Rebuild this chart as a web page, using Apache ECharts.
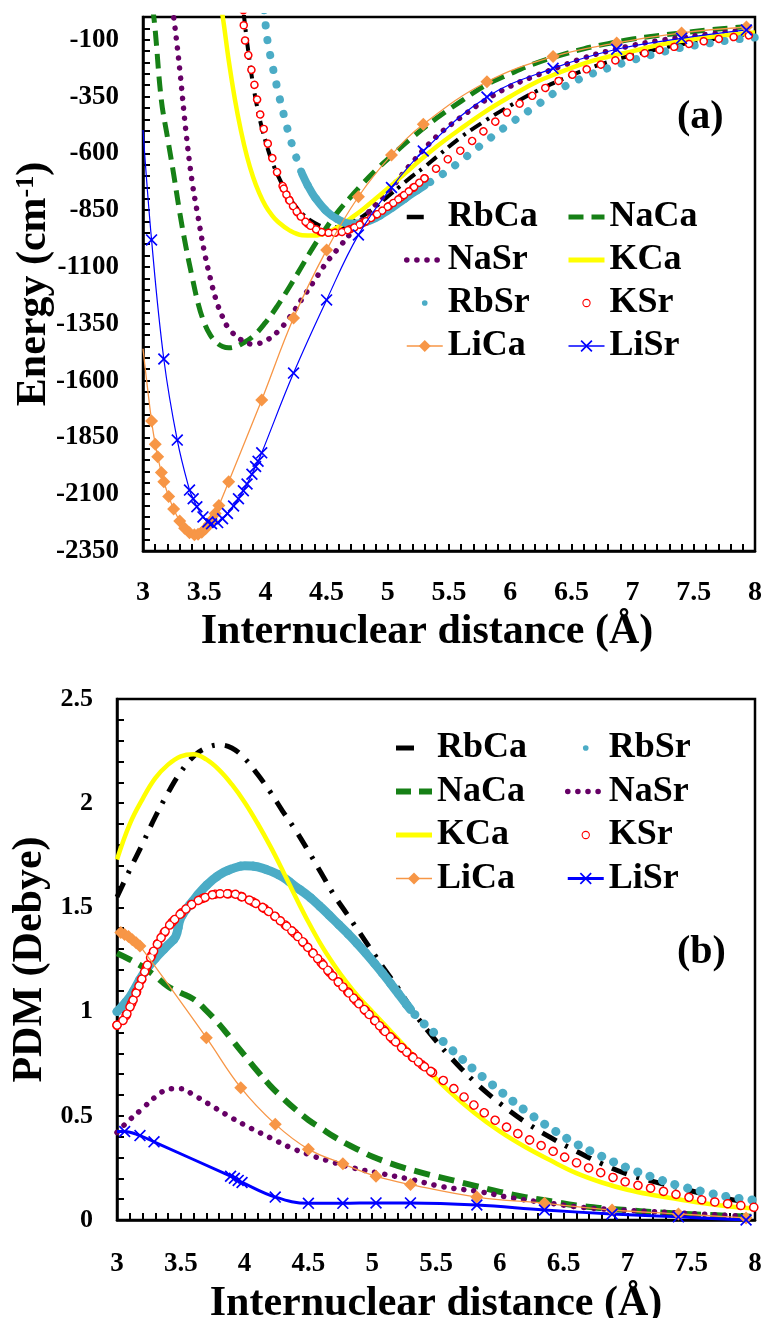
<!DOCTYPE html>
<html>
<head>
<meta charset="utf-8">
<title>Energy and PDM curves</title>
<script src="https://cdn.jsdelivr.net/npm/echarts@6/dist/echarts.min.js"></script>
<style>
  html, body { margin: 0; padding: 0; background: #fff; }
  #main { width: 766px; height: 1318px; }
</style>
</head>
<body>
<div id="main"></div>
<script>
// ---- panel (a): potential energy, [r (Å), E (cm-1)] ----
var rbCaA = [[3.82,30],[3.84,-66],[3.86,-150],[3.9,-300],[3.95,-440],[4.0,-545],[4.05,-630],[4.1,-695],[4.15,-750],[4.2,-800],[4.3,-865],[4.4,-905],[4.5,-925],[4.6,-925],[4.7,-905],[4.8,-875],[4.9,-835],[5.0,-790],[5.1,-745],[5.2,-700],[5.3,-660],[5.4,-615],[5.6,-528],[5.8,-455],[6.0,-390],[6.2,-330],[6.4,-280],[6.6,-235],[6.8,-198],[7.0,-168],[7.2,-142],[7.4,-120],[7.6,-102],[7.8,-85],[8.0,-70]];
var naCaA = [[3.08,40],[3.1,-60],[3.15,-366],[3.2,-530],[3.25,-690],[3.3,-860],[3.35,-1010],[3.4,-1140],[3.45,-1260],[3.5,-1345],[3.55,-1400],[3.6,-1432],[3.65,-1450],[3.7,-1456],[3.75,-1452],[3.8,-1440],[3.9,-1405],[4.0,-1345],[4.1,-1270],[4.2,-1185],[4.3,-1095],[4.4,-1005],[4.5,-925],[4.6,-852],[4.7,-790],[4.8,-730],[4.9,-675],[5.0,-625],[5.2,-530],[5.4,-445],[5.6,-370],[5.8,-300],[6.0,-250],[6.2,-205],[6.4,-170],[6.6,-140],[6.8,-117],[7.0,-97],[7.2,-82],[7.4,-70],[7.6,-58],[7.8,-48],[8.0,-40]];
var naSrA = [[3.24,40],[3.26,-40],[3.3,-230],[3.35,-500],[3.4,-720],[3.45,-880],[3.5,-1030],[3.55,-1150],[3.6,-1250],[3.65,-1320],[3.7,-1370],[3.8,-1420],[3.9,-1440],[4.0,-1425],[4.1,-1385],[4.2,-1320],[4.3,-1240],[4.4,-1160],[4.5,-1080],[4.6,-1015],[4.7,-950],[4.8,-885],[4.9,-825],[5.0,-770],[5.2,-640],[5.4,-525],[5.6,-440],[5.8,-365],[6.0,-305],[6.2,-260],[6.4,-220],[6.6,-180],[6.8,-150],[7.0,-125],[7.2,-105],[7.4,-90],[7.6,-77],[7.8,-65],[8.0,-55]];
var kCaA = [[3.64,40],[3.66,-30],[3.7,-190],[3.75,-360],[3.8,-500],[3.85,-615],[3.9,-705],[3.95,-775],[4.0,-830],[4.05,-870],[4.1,-900],[4.2,-940],[4.3,-960],[4.4,-962],[4.5,-950],[4.6,-922],[4.7,-885],[4.8,-845],[4.9,-800],[5.0,-755],[5.2,-660],[5.4,-570],[5.6,-490],[5.8,-415],[6.0,-350],[6.2,-290],[6.4,-245],[6.6,-205],[6.8,-175],[7.0,-150],[7.2,-125],[7.4,-105],[7.6,-90],[7.8,-78],[8.0,-68]];
var rbSrA = [[3.99,30],[4.0,-26],[4.02,-114],[4.05,-195],[4.1,-320],[4.15,-430],[4.2,-530],[4.25,-615],[4.3,-690],[4.35,-745],[4.4,-790],[4.5,-855],[4.6,-893],[4.7,-910],[4.8,-905],[4.9,-885],[5.0,-852],[5.1,-815],[5.2,-777],[5.3,-742],[5.4,-708],[5.5,-672],[5.6,-632],[5.7,-590],[5.8,-548],[6.0,-468],[6.2,-395],[6.4,-320],[6.6,-265],[6.8,-225],[7.0,-190],[7.2,-160],[7.4,-135],[7.6,-118],[7.8,-102],[8.0,-90]];
var kSrA = [[3.82,30],[3.83,-88],[3.86,-167],[3.9,-270],[3.95,-410],[4.0,-520],[4.05,-610],[4.1,-690],[4.15,-755],[4.2,-810],[4.3,-885],[4.4,-930],[4.5,-950],[4.6,-948],[4.7,-932],[4.8,-905],[4.9,-872],[5.0,-835],[5.1,-797],[5.2,-755],[5.3,-710],[5.4,-665],[5.5,-622],[5.6,-585],[5.8,-495],[6.0,-410],[6.2,-340],[6.4,-280],[6.6,-235],[6.8,-200],[7.0,-172],[7.2,-147],[7.4,-125],[7.6,-105],[7.8,-90],[8.0,-78]];
var liCaA = [[3.0,-1460],[3.07,-1778],[3.1,-1880],[3.12,-1935],[3.15,-2005],[3.17,-2045],[3.21,-2110],[3.25,-2165],[3.3,-2218],[3.34,-2250],[3.38,-2270],[3.42,-2278],[3.45,-2276],[3.48,-2267],[3.51,-2252],[3.54,-2232],[3.56,-2215],[3.59,-2185],[3.62,-2150],[3.7,-2045],[3.97,-1685],[4.23,-1325],[4.5,-1025],[4.76,-791],[5.03,-607],[5.29,-472],[5.81,-285],[6.35,-174],[6.87,-114],[7.4,-70],[7.93,-44]];
var liCaAPlain = [3.0];
var liSrA = [[3.0,-497],[3.07,-981],[3.17,-1505],[3.28,-1862],[3.38,-2082],[3.41,-2120],[3.44,-2155],[3.49,-2200],[3.53,-2222],[3.56,-2230],[3.61,-2225],[3.65,-2208],[3.69,-2185],[3.74,-2152],[3.78,-2120],[3.82,-2085],[3.85,-2055],[3.89,-2012],[3.92,-1978],[3.94,-1955],[3.97,-1918],[4.23,-1567],[4.5,-1245],[4.76,-959],[5.03,-750],[5.29,-590],[5.81,-352],[6.35,-226],[6.87,-142],[7.4,-94],[7.93,-57]];
var liSrAPlain = [3.0];

// ---- panel (b): permanent dipole moment, [r (Å), D (Debye)] ----
var rbCaB = [[3.0,1.55],[3.1,1.68],[3.2,1.805],[3.3,1.935],[3.4,2.05],[3.5,2.15],[3.6,2.225],[3.7,2.265],[3.8,2.28],[3.9,2.265],[4.0,2.215],[4.1,2.14],[4.2,2.055],[4.3,1.96],[4.4,1.87],[4.5,1.77],[4.6,1.665],[4.7,1.56],[4.8,1.47],[4.9,1.38],[5.0,1.29],[5.1,1.2],[5.2,1.115],[5.3,1.02],[5.4,0.935],[5.5,0.86],[5.6,0.79],[5.7,0.725],[5.8,0.665],[5.9,0.61],[6.0,0.56],[6.2,0.47],[6.4,0.395],[6.6,0.33],[6.8,0.27],[7.0,0.22],[7.2,0.185],[7.4,0.155],[7.6,0.125],[7.8,0.1],[8.0,0.08]];
var naCaB = [[3.0,1.28],[3.1,1.25],[3.2,1.215],[3.3,1.17],[3.4,1.12],[3.5,1.09],[3.6,1.06],[3.7,1.005],[3.8,0.94],[3.9,0.865],[4.0,0.79],[4.1,0.715],[4.2,0.645],[4.3,0.585],[4.4,0.53],[4.5,0.48],[4.6,0.44],[4.7,0.4],[4.8,0.365],[4.9,0.335],[5.0,0.305],[5.2,0.26],[5.4,0.225],[5.6,0.195],[5.8,0.165],[6.0,0.135],[6.2,0.11],[6.4,0.09],[6.6,0.07],[6.8,0.057],[7.0,0.047],[7.2,0.038],[7.4,0.03],[7.6,0.025],[7.8,0.02],[8.0,0.015]];
var naSrB = [[3.0,0.42],[3.08,0.47],[3.2,0.535],[3.3,0.59],[3.42,0.63],[3.5,0.63],[3.6,0.6],[3.75,0.545],[3.9,0.49],[4.05,0.44],[4.2,0.395],[4.35,0.35],[4.5,0.315],[4.65,0.285],[4.85,0.25],[5.05,0.225],[5.3,0.195],[5.55,0.16],[5.85,0.135],[6.1,0.105],[6.4,0.08],[6.65,0.06],[6.9,0.05],[7.2,0.04],[7.45,0.032],[7.7,0.025],[8.0,0.015]];
var kCaB = [[3.0,1.73],[3.1,1.9],[3.2,2.02],[3.3,2.12],[3.4,2.185],[3.5,2.225],[3.6,2.235],[3.7,2.21],[3.8,2.16],[3.9,2.09],[4.0,2.005],[4.1,1.905],[4.2,1.795],[4.3,1.675],[4.4,1.55],[4.5,1.43],[4.6,1.32],[4.7,1.225],[4.8,1.14],[4.9,1.065],[5.0,1.0],[5.2,0.87],[5.4,0.74],[5.6,0.62],[5.8,0.515],[6.0,0.425],[6.2,0.35],[6.4,0.285],[6.6,0.225],[6.8,0.18],[7.0,0.145],[7.2,0.12],[7.4,0.1],[7.6,0.08],[7.8,0.065],[8.0,0.055]];
var rbSrB = [[3.0,1.0],[3.1,1.07],[3.2,1.175],[3.3,1.255],[3.4,1.32],[3.46,1.36],[3.5,1.45],[3.6,1.535],[3.7,1.605],[3.8,1.655],[3.9,1.685],[4.0,1.7],[4.1,1.695],[4.2,1.675],[4.3,1.645],[4.4,1.6],[4.5,1.555],[4.6,1.5],[4.7,1.44],[4.8,1.38],[4.9,1.315],[5.0,1.245],[5.1,1.17],[5.2,1.09],[5.3,1.01],[5.4,0.945],[5.5,0.89],[5.6,0.83],[5.7,0.775],[5.8,0.72],[5.9,0.67],[6.0,0.62],[6.2,0.525],[6.4,0.44],[6.6,0.365],[6.8,0.305],[7.0,0.25],[7.2,0.205],[7.4,0.165],[7.6,0.135],[7.8,0.11],[8.0,0.095]];
var kSrB = [[3.0,0.935],[3.05,0.96],[3.1,1.02],[3.15,1.09],[3.2,1.165],[3.25,1.24],[3.3,1.305],[3.4,1.405],[3.5,1.47],[3.6,1.52],[3.7,1.55],[3.8,1.565],[3.9,1.565],[4.0,1.545],[4.1,1.515],[4.2,1.475],[4.3,1.425],[4.4,1.37],[4.5,1.305],[4.6,1.235],[4.7,1.165],[4.8,1.1],[4.9,1.035],[5.0,0.97],[5.1,0.905],[5.2,0.845],[5.3,0.79],[5.4,0.74],[5.5,0.695],[5.6,0.65],[5.7,0.6],[5.8,0.55],[5.9,0.505],[6.0,0.465],[6.2,0.395],[6.4,0.335],[6.6,0.275],[6.8,0.225],[7.0,0.18],[7.2,0.15],[7.4,0.12],[7.6,0.095],[7.8,0.077],[8.0,0.06]];
var liCaB = [[3.0,1.39],[3.03,1.38],[3.06,1.37],[3.09,1.36],[3.12,1.345],[3.15,1.33],[3.18,1.315],[3.7,0.875],[3.97,0.635],[4.24,0.46],[4.5,0.34],[4.77,0.27],[5.03,0.21],[5.3,0.17],[5.82,0.11],[6.35,0.08],[6.88,0.048],[7.4,0.029],[7.93,0.01]];
var liCaBPlain = [3.0];
var liSrB = [[3.0,0.425],[3.06,0.425],[3.18,0.405],[3.29,0.375],[3.89,0.21],[3.92,0.2],[3.95,0.19],[3.98,0.18],[4.24,0.11],[4.5,0.08],[4.77,0.08],[5.03,0.082],[5.3,0.082],[5.82,0.072],[6.35,0.048],[6.88,0.029],[7.4,0.015],[7.93,0.0]];
var liSrBPlain = [3.0];

// axis ranges / label steps
var xMin = 3, xMax = 8;
var eMin = -2350, eMax = 0, eLabelStep = 250;
var dMin = 0, dMax = 2.5;

var FONT = 'Liberation Serif';
var COL = { rbca: '#000000', naca: '#168016', nasr: '#660066', kca: '#ffff00',
            rbsr: '#4bacc6', ksr: '#ff0000', lica: '#f79646', lisr: '#0000ff' };
var CROSS = 'path://M0,1L1,0L10,9L9,10Z M9,0L10,1L1,10L0,9Z';
var DOT_ICON = 'path://M0,0M18,18M9,5.6A3.4,3.4,0,1,1,9,12.4A3.4,3.4,0,1,1,9,5.6Z';
var RING_ICON = 'path://M0,0M18,18M9,4A5,5,0,1,1,9,14A5,5,0,1,1,9,4ZM9,5.3A3.7,3.7,0,1,0,9,12.7A3.7,3.7,0,1,0,9,5.3Z';

function between(arr, a, b) {
  return arr.filter(function (p) { return p[0] >= a && p[0] <= b; });
}

function line(name, g, data, color, width, type, cap) {
  var s = {
    type: 'line', xAxisIndex: g, yAxisIndex: g, data: data,
    smooth: 0.4, symbol: 'none', silent: true,
    lineStyle: { color: color, width: width, type: type || 'solid', cap: cap || 'butt', join: 'round' },
    itemStyle: { color: color, borderWidth: 0 }
  };
  if (name) s.name = name;
  return s;
}

function marked(name, g, data, plain, color, width, sym, size) {
  var pts = data.map(function (p) {
    return plain.indexOf(p[0]) >= 0 ? { value: p, symbol: 'none' } : p;
  });
  var s = line(name, g, pts, color, width);
  s.symbol = sym;
  s.symbolSize = size;
  s.showSymbol = true;
  s.showAllSymbol = true;
  return s;
}

// open circles: red dots with white centres laid along the curve
function rings(name, g, data, outer, inner, gap) {
  return [
    line(name, g, data, COL.ksr, outer, [0.1, gap], 'round'),
    line(null, g, data, '#ffffff', inner, [0.1, gap], 'round')
  ];
}

function xAxis(g, fs, margin, gap, padRight) {
  return {
    type: 'value', gridIndex: g, min: xMin, max: xMax, interval: 0.1,
    axisLine: { onZero: false, lineStyle: { color: '#000', width: 2.5 } },
    axisTick: { inside: true, length: 7, lineStyle: { color: '#000', width: 2 } },
    splitLine: { show: false },
    axisLabel: {
      margin: margin, color: '#000', fontFamily: FONT, fontWeight: 'bold', fontSize: fs,
      formatter: function (v) { var k = Math.round(v * 10); return k % 5 === 0 ? String(k / 10) : ''; }
    },
    name: 'Internuclear distance (Å)', nameLocation: 'middle', nameGap: gap, nameMoveOverlap: false,
    nameTextStyle: { fontFamily: FONT, fontWeight: 'bold', fontSize: 42, color: '#000', padding: [0, padRight, 0, 0] }
  };
}

var tickLine = { inside: true, length: 7, lineStyle: { color: '#000', width: 2 } };
var axisLine = { onZero: false, lineStyle: { color: '#000', width: 2.5 } };

var hide = { opacity: 0 };
var item = {
  RbCa: function (w, d) { return { name: 'RbCa', itemStyle: hide, lineStyle: { color: COL.rbca, width: w, type: [d, 60] } }; },
  NaCa: function (w) { return { name: 'NaCa', itemStyle: hide, lineStyle: { color: COL.naca, width: w, type: [15, 8] } }; },
  NaSr: function (w) { return { name: 'NaSr', itemStyle: hide, lineStyle: { color: COL.nasr, width: w, type: [0.1, 10], cap: 'round' } }; },
  KCa: function (w) { return { name: 'KCa', itemStyle: hide, lineStyle: { color: COL.kca, width: w, type: 'solid' } }; },
  RbSr: function () { return { name: 'RbSr', icon: DOT_ICON, itemStyle: { color: COL.rbsr, opacity: 1, borderWidth: 0 } }; },
  KSr: function () { return { name: 'KSr', icon: RING_ICON, itemStyle: { color: COL.ksr, opacity: 1, borderWidth: 0 } }; },
  LiCa: function (w) { return { name: 'LiCa', itemStyle: { color: COL.lica, borderWidth: 0, opacity: 1 }, lineStyle: { color: COL.lica, width: w, type: 'solid' } }; },
  LiSr: function (w) { return { name: 'LiSr', itemStyle: { color: COL.lisr, borderWidth: 0, opacity: 1 }, lineStyle: { color: COL.lisr, width: w, type: 'solid' } }; }
};

function legend(left, top, gap, data) {
  return {
    orient: 'vertical', left: left, top: top, itemWidth: 36, itemHeight: 15,
    itemGap: gap, itemTextGap: 5, padding: 0, selectedMode: false,
    textStyle: { fontFamily: FONT, fontWeight: 'bold', fontSize: 36, color: '#000' },
    data: data
  };
}

var series = [].concat(
  // panel (a)
  line('RbCa', 0, rbCaA, COL.rbca, 4, [13, 6, 3, 6]),
  line('NaCa', 0, naCaA, COL.naca, 5, [15, 8]),
  line('NaSr', 0, naSrA, COL.nasr, 5.5, [0.1, 10], 'round'),
  line('KCa', 0, kCaA, COL.kca, 4.5),
  line('RbSr', 0, rbSrA, COL.rbsr, 8, [0.1, 15], 'round'),
  line(null, 0, between(rbSrA, 4.3, 5.3), COL.rbsr, 8, 'solid', 'round'),
  rings('KSr', 0, kSrA, 8.5, 5.5, 15),
  rings(null, 0, between(kSrA, 4.15, 5.3), 8.5, 5.5, 6.5),
  marked('LiCa', 0, liCaA, liCaAPlain, COL.lica, 1.3, 'diamond', 13),
  marked('LiSr', 0, liSrA, liSrAPlain, COL.lisr, 1.2, CROSS, 12),
  // panel (b)
  line('RbCa', 1, rbCaB, COL.rbca, 5, [16, 10, 3, 10]),
  line('RbSr', 1, rbSrB, COL.rbsr, 9, [0.1, 13], 'round'),
  line(null, 1, between(rbSrB, 3.0, 5.3), COL.rbsr, 9, 'solid', 'round'),
  line('NaCa', 1, naCaB, COL.naca, 6, [16, 9]),
  line('NaSr', 1, naSrB, COL.nasr, 5.5, [0.1, 10], 'round'),
  line('KCa', 1, kCaB, COL.kca, 4.5),
  rings('KSr', 1, kSrB, 9.5, 6.5, 13),
  rings(null, 1, between(kSrB, 3.0, 5.5), 9.5, 6.5, 7.5),
  marked('LiCa', 1, liCaB, liCaBPlain, COL.lica, 1.3, 'diamond', 13),
  marked('LiSr', 1, liSrB, liSrBPlain, COL.lisr, 3, CROSS, 12)
);

var option = {
  animation: false,
  backgroundColor: '#fff',
  title: [
    { text: '(a)', left: 677, top: 98, padding: 0, textStyle: { fontFamily: FONT, fontWeight: 'bold', fontSize: 40, color: '#000' } },
    { text: '(b)', left: 677, top: 933, padding: 0, textStyle: { fontFamily: FONT, fontWeight: 'bold', fontSize: 40, color: '#000' } }
  ],
  legend: [
    legend(404, 199, 7, [item.RbCa(4.5, 17), item.NaSr(5.5), item.RbSr(), item.LiCa(1.5)]),
    legend(566, 199, 7, [item.NaCa(5), item.KCa(5), item.KSr(), item.LiSr(1.5)]),
    legend(393, 730, 7.5, [item.RbCa(5, 18), item.NaCa(6), item.KCa(5), item.LiCa(1.5)]),
    legend(565, 730, 7.5, [item.RbSr(), item.NaSr(5.5), item.KSr(), item.LiSr(3)])
  ],
  grid: [
    { left: 143, top: 17, width: 612, height: 534, show: true, borderColor: '#000', borderWidth: 2.5, outerBoundsMode: 'none' },
    { left: 117, top: 699, width: 638, height: 521, show: true, borderColor: '#000', borderWidth: 2.5, outerBoundsMode: 'none' }
  ],
  xAxis: [xAxis(0, 28, 28, 60, 44), xAxis(1, 27, 31, 63, 0)],
  yAxis: [
    {
      type: 'value', gridIndex: 0, min: eMin, max: eMax, interval: 50,
      axisLine: axisLine, axisTick: tickLine, splitLine: { show: false },
      axisLabel: {
        margin: 24, color: '#000', fontFamily: FONT, fontWeight: 'bold', fontSize: 27,
        formatter: function (v) { var k = Math.round(v); return (k - eMin) % eLabelStep === 0 ? String(k) : ''; }
      },
      name: '{t|Energy (cm}{s|-1}{t|)}', nameLocation: 'middle', nameGap: 88, nameMoveOverlap: false,
      nameTextStyle: {
        fontFamily: FONT, fontWeight: 'bold', fontSize: 42, color: '#000',
        rich: {
          t: { fontFamily: FONT, fontWeight: 'bold', fontSize: 42, color: '#000' },
          s: { fontFamily: FONT, fontWeight: 'bold', fontSize: 26, color: '#000', verticalAlign: 'top' }
        }
      }
    },
    {
      type: 'value', gridIndex: 1, min: dMin, max: dMax, interval: 0.1,
      axisLine: axisLine, axisTick: tickLine, splitLine: { show: false },
      axisLabel: {
        margin: 24, color: '#000', fontFamily: FONT, fontWeight: 'bold', fontSize: 26,
        formatter: function (v) { var k = Math.round(v * 10); return k % 5 === 0 ? String(k / 10) : ''; }
      },
      name: 'PDM (Debye)', nameLocation: 'middle', nameGap: 66, nameMoveOverlap: false,
      nameTextStyle: { fontFamily: FONT, fontWeight: 'bold', fontSize: 42, color: '#000' }
    }
  ],
  series: series
};

var chart = echarts.init(document.getElementById('main'), null, { renderer: 'canvas' });
chart.setOption(option);
</script>
</body>
</html>
